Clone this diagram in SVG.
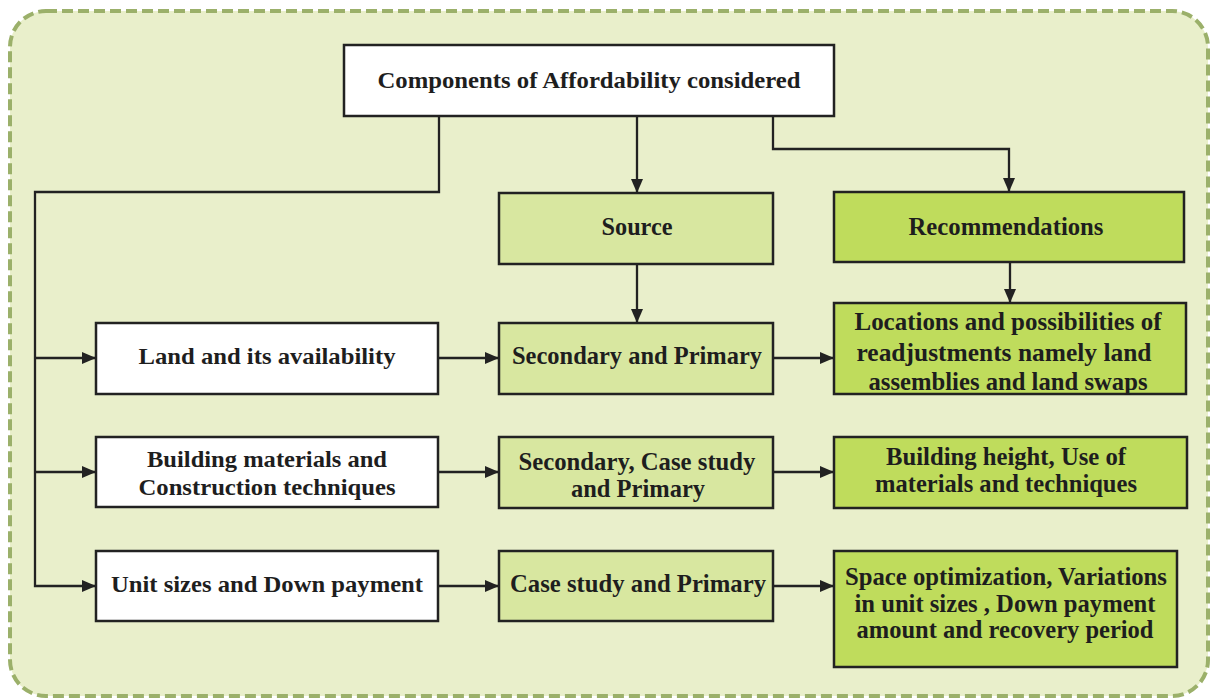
<svg xmlns="http://www.w3.org/2000/svg" width="1211" height="698" viewBox="0 0 1211 698">
<defs>
<style>
.frame{fill:#e9efcb;stroke:#9bb06a;stroke-width:4;stroke-dasharray:11 5}
.box{stroke:#222;stroke-width:2.5}
.white{fill:#ffffff}
.src{fill:#d8e7a0}
.rec{fill:#bfdc5c}
.t{fill:#1e1e1e;text-anchor:middle}
.t24{font-size:24px}
.t25{font-size:25px}
.conn{fill:none;stroke:#222;stroke-width:2.3}
</style>
<marker id="arr" markerWidth="14" markerHeight="12" refX="14" refY="6" orient="auto" markerUnits="userSpaceOnUse">
<path d="M0,0 L14,6 L0,12 Z" fill="#222"/>
</marker>
</defs>
<rect class="frame" x="10" y="11" width="1198" height="685" rx="36" ry="36"/>
<g id="connectors">
<path class="conn" d="M439,116 V192 H35 V586 H96" marker-end="url(#arr)"/>
<path class="conn" d="M35,358 H96" marker-end="url(#arr)"/>
<path class="conn" d="M35,472 H96" marker-end="url(#arr)"/>
<path class="conn" d="M637,116 V193" marker-end="url(#arr)"/>
<path class="conn" d="M773,116 V149 H1009 V192" marker-end="url(#arr)"/>
<path class="conn" d="M637,264 V323" marker-end="url(#arr)"/>
<path class="conn" d="M1010,262 V303" marker-end="url(#arr)"/>
<path class="conn" d="M438,358 H499" marker-end="url(#arr)"/>
<path class="conn" d="M773,358 H834" marker-end="url(#arr)"/>
<path class="conn" d="M438,472 H499" marker-end="url(#arr)"/>
<path class="conn" d="M773,472 H834" marker-end="url(#arr)"/>
<path class="conn" d="M438,586 H499" marker-end="url(#arr)"/>
<path class="conn" d="M773,586 H834" marker-end="url(#arr)"/>
</g>
<g id="nodes" font-family="Liberation Serif, Times New Roman, serif" font-weight="bold">
<g id="components">
<rect class="box white" x="344" y="45" width="490" height="71"/>
<text class="t t24" x="589" y="88" textLength="423" lengthAdjust="spacingAndGlyphs">Components of Affordability considered</text>
</g>
<g id="source">
<rect class="box src" x="499" y="193" width="274" height="71"/>
<text class="t t25" x="637" y="235" textLength="71" lengthAdjust="spacingAndGlyphs">Source</text>
</g>
<g id="recommendations">
<rect class="box rec" x="834" y="192" width="350" height="70"/>
<text class="t t25" x="1006" y="235" textLength="195" lengthAdjust="spacingAndGlyphs">Recommendations</text>
</g>
<g id="land">
<rect class="box white" x="96" y="323" width="342" height="71"/>
<text class="t t24" x="267" y="364" textLength="257" lengthAdjust="spacingAndGlyphs">Land and its availability</text>
</g>
<g id="building">
<rect class="box white" x="96" y="437" width="342" height="70"/>
<text class="t t24" x="267" y="467" textLength="240" lengthAdjust="spacingAndGlyphs">Building materials and</text>
<text class="t t24" x="267" y="495" textLength="257" lengthAdjust="spacingAndGlyphs">Construction techniques</text>
</g>
<g id="unit">
<rect class="box white" x="96" y="551" width="342" height="70"/>
<text class="t t24" x="267" y="592" textLength="312" lengthAdjust="spacingAndGlyphs">Unit sizes and Down payment</text>
</g>
<g id="src-land">
<rect class="box src" x="499" y="323" width="274" height="71"/>
<text class="t t25" x="637" y="364" textLength="250" lengthAdjust="spacingAndGlyphs">Secondary and Primary</text>
</g>
<g id="src-building">
<rect class="box src" x="499" y="437" width="274" height="71"/>
<text class="t t25" x="637" y="470" textLength="237" lengthAdjust="spacingAndGlyphs">Secondary, Case study</text>
<text class="t t25" x="638" y="497" textLength="134" lengthAdjust="spacingAndGlyphs">and Primary</text>
</g>
<g id="src-unit">
<rect class="box src" x="499" y="551" width="274" height="70"/>
<text class="t t25" x="638" y="592" textLength="256" lengthAdjust="spacingAndGlyphs">Case study and Primary</text>
</g>
<g id="rec-land">
<rect class="box rec" x="834" y="303" width="352" height="91"/>
<text class="t t25" x="1008" y="330" textLength="307" lengthAdjust="spacingAndGlyphs">Locations and possibilities of</text>
<text class="t t25" x="1004" y="361" textLength="295" lengthAdjust="spacingAndGlyphs">readjustments namely land</text>
<text class="t t25" x="1008" y="390" textLength="279" lengthAdjust="spacingAndGlyphs">assemblies and land swaps</text>
</g>
<g id="rec-building">
<rect class="box rec" x="834" y="437" width="353" height="71"/>
<text class="t t25" x="1006" y="465" textLength="240" lengthAdjust="spacingAndGlyphs">Building height, Use of</text>
<text class="t t25" x="1006" y="492" textLength="262" lengthAdjust="spacingAndGlyphs">materials and techniques</text>
</g>
<g id="rec-unit">
<rect class="box rec" x="834" y="551" width="343" height="116"/>
<text class="t t25" x="1006" y="585" textLength="322" lengthAdjust="spacingAndGlyphs">Space optimization, Variations</text>
<text class="t t25" x="1005" y="612" textLength="301" lengthAdjust="spacingAndGlyphs">in unit sizes , Down payment</text>
<text class="t t25" x="1005" y="638" textLength="297" lengthAdjust="spacingAndGlyphs">amount and recovery period</text>
</g>
</g>
</svg>
